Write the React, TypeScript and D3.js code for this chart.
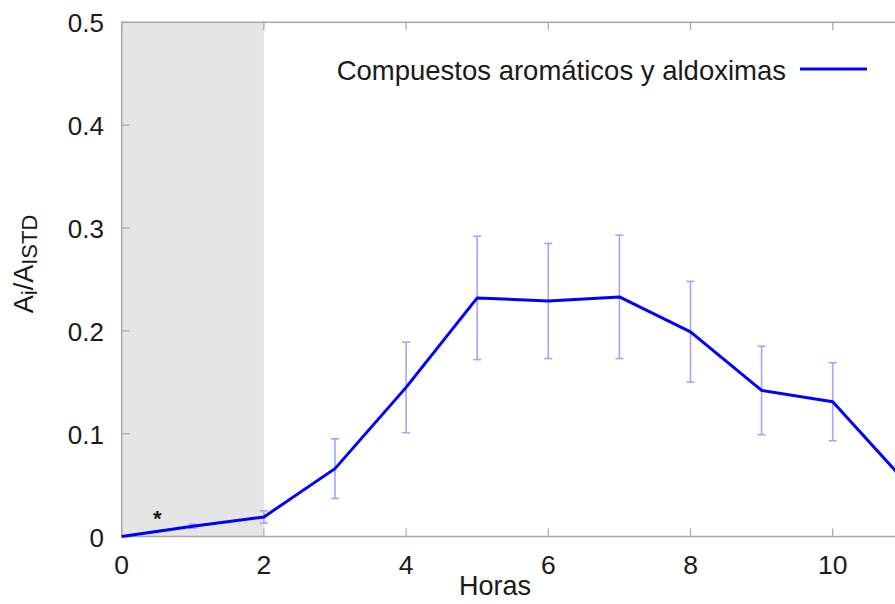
import React from "react";
import * as d3 from "d3";

const hours = [0, 1, 2, 3, 4, 5, 6, 7, 8, 9, 10, 11];
const values = [0, 0.01, 0.019, 0.066, 0.145, 0.232, 0.229, 0.233, 0.199, 0.142, 0.131, 0.055];
const errors = [0, 0.002, 0.006, 0.029, 0.044, 0.06, 0.056, 0.06, 0.049, 0.043, 0.038, 0.03];
const xTicks = [0, 2, 4, 6, 8, 10];
const yTicks = [0, 0.1, 0.2, 0.3, 0.4, 0.5];
const legendLabel = "Compuestos aromáticos y aldoximas";
const shadeRange = [0, 2];

export default function App() {
  const W = 895, H = 604;
  const left = 121.7, top = 22.3, bottom = 536.5;
  const unit = 71.1;
  const x = d3.scaleLinear().domain([0, 11]).range([left, left + 11 * unit]);
  const y = d3.scaleLinear().domain([0, 0.5]).range([bottom, top]);
  const line = d3.line<number>().x((_, i) => x(hours[i])).y((d) => y(d));
  const font = "'Liberation Sans', Arial, sans-serif";
  const axisColor = "#a8a8a8";
  const textColor = "#1a1a1a";
  const right = x(11);
  const tickLen = 8;
  return (
    <svg width={W} height={H} style={{ position: "absolute", left: 0, top: 0 }}>
      <rect x={0} y={0} width={W} height={H} fill="#fff" />
      <rect x={x(shadeRange[0])} y={top} width={x(shadeRange[1]) - x(shadeRange[0])} height={bottom - top} fill="#e5e5e5" />
      <rect x={left} y={top} width={right - left} height={bottom - top} fill="none" stroke={axisColor} strokeWidth={1.5} />
      {xTicks.map((t) => (
        <g key={"xt" + t}>
          <line x1={x(t)} x2={x(t)} y1={bottom} y2={bottom - tickLen} stroke={axisColor} strokeWidth={1.2} />
          <line x1={x(t)} x2={x(t)} y1={top} y2={top + tickLen} stroke={axisColor} strokeWidth={1.2} />
          <text x={x(t)} y={574} textAnchor="middle" fontFamily={font} fontSize={26.5} fill={textColor}>{t}</text>
        </g>
      ))}
      {yTicks.map((t) => (
        <g key={"yt" + t}>
          <line x1={left} x2={left + tickLen} y1={y(t)} y2={y(t)} stroke={axisColor} strokeWidth={1.2} />
          <line x1={right} x2={right - tickLen} y1={y(t)} y2={y(t)} stroke={axisColor} strokeWidth={1.2} />
          <text x={104} y={y(t) + 10} textAnchor="end" fontFamily={font} fontSize={26} fill={textColor}>{t === 0 ? "0" : t.toFixed(1)}</text>
        </g>
      ))}
      {values.map((v, i) => {
        const e = errors[i];
        if (e <= 0) return null;
        const cx = x(hours[i]);
        return (
          <g key={"e" + i} stroke="#a4a4ff" strokeWidth={1.6}>
            <line x1={cx} x2={cx} y1={y(v + e)} y2={y(v - e)} />
            <line x1={cx - 4} x2={cx + 4} y1={y(v + e)} y2={y(v + e)} />
            <line x1={cx - 4} x2={cx + 4} y1={y(v - e)} y2={y(v - e)} />
          </g>
        );
      })}
      <path d={line(values) || ""} fill="none" stroke="#0000ff" strokeWidth={3} strokeLinejoin="round" />
      <text x={x(0.5)} y={526} textAnchor="middle" fontFamily={font} fontSize={22} fontWeight="bold" fill={textColor}>*</text>
      <text x={786} y={80} textAnchor="end" fontFamily={font} fontSize={27.5} fill={textColor}>{legendLabel}</text>
      <line x1={800} x2={867} y1={69} y2={69} stroke="#0000ff" strokeWidth={3} />
      <text x={495} y={595} textAnchor="middle" fontFamily={font} fontSize={27} fill={textColor}>Horas</text>
      <text transform="translate(33,264) rotate(-90)" textAnchor="middle" fontFamily={font} fontSize={27} fill={textColor}>
        A<tspan fontSize={22} dy={4}>i</tspan><tspan dy={-4}>/A</tspan><tspan fontSize={22} dy={4}>ISTD</tspan>
      </text>
    </svg>
  );
}
